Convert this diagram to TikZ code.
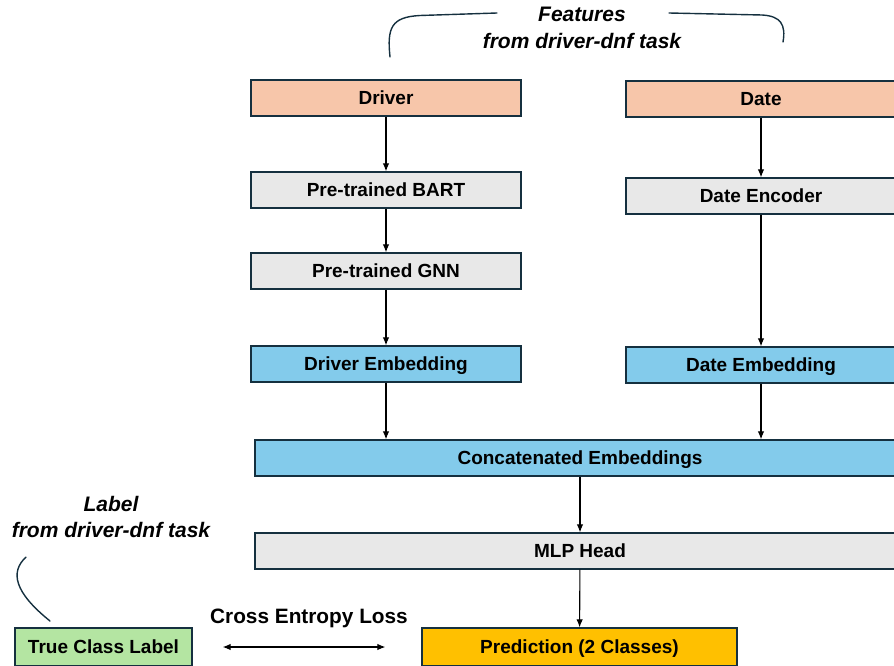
\documentclass[tikz,border=0pt]{standalone}
\usepackage{fontspec}
\setmainfont{Liberation Sans}
\usetikzlibrary{arrows.meta}
\definecolor{edgeblue}{HTML}{15303F}
\definecolor{inputorange}{HTML}{F7C6AA}
\definecolor{stepgray}{HTML}{E8E8E8}
\definecolor{embedblue}{HTML}{83CBEB}
\definecolor{labelgreen}{HTML}{B4E5A2}
\definecolor{predyellow}{HTML}{FFC000}

\begin{document}
\begin{tikzpicture}[x=1pt, y=-1pt,
    box/.style={rectangle, draw=edgeblue, line width=1.3pt, minimum width=270pt,
        minimum height=36pt, inner sep=0pt, text height=13.6pt, text depth=0pt,
        font=\bfseries\fontsize{19}{22}\selectfont},
    wide/.style={box, minimum width=650pt},
    flow/.style={-{Latex[length=8pt,width=6.5pt]}, line width=1.1pt},
    note/.style={font=\bfseries\itshape\fontsize{21}{27}\selectfont, align=center},
    brace/.style={draw=edgeblue, line width=1.4pt, line cap=round}
]
    \useasboundingbox (0,0) rectangle (894,666);

    % left branch
    \node[box, fill=inputorange] (driver) at (386,98) {Driver};
    \node[box, fill=stepgray] (bart) at (386,190) {Pre-trained BART};
    \node[box, fill=stepgray] (gnn) at (386,271) {Pre-trained GNN};
    \node[box, fill=embedblue] (demb) at (386,364) {Driver Embedding};

    % right branch
    \node[box, fill=inputorange] (date) at (761,99) {Date};
    \node[box, fill=stepgray] (denc) at (761,196) {Date Encoder};
    \node[box, fill=embedblue] (temb) at (761,365) {Date Embedding};

    % head
    \node[wide, fill=embedblue] (concat) at (580,458) {Concatenated Embeddings};
    \node[wide, fill=stepgray] (mlp) at (580,551) {MLP Head};
    \node[box, fill=predyellow, minimum width=315pt, minimum height=38pt] (pred) at (579.5,647) {Prediction (2 Classes)};
    \node[box, fill=labelgreen, minimum width=177pt, minimum height=38pt] (truth) at (103.5,647) {True Class Label};

    \draw[flow] (driver) -- (bart);
    \draw[flow] (bart) -- (gnn);
    \draw[flow] (gnn) -- (demb);
    \draw[flow] (demb) -- (demb |- concat.north);
    \draw[flow] (date) -- (denc);
    \draw[flow] (denc) -- (temb);
    \draw[flow] (temb) -- (temb |- concat.north);
    \draw[flow] (concat) -- (mlp);
    \draw[flow] (mlp) -- (pred);

    % loss
    \coordinate (lossL) at ([xshift=30pt]truth.east);
    \coordinate (lossR) at ([xshift=-36pt]pred.west);
    \draw[{Latex[length=8pt,width=6.5pt]}-{Latex[length=8pt,width=6.5pt]}, line width=1.1pt] (lossL) -- (lossR);
    \node[font=\bfseries\fontsize{20.8}{24}\selectfont] (loss) at (309,618) {Cross Entropy Loss};

    % annotations
    \node[note] (feat) at (582,28) {Features\\from driver-dnf task};
    \node[note, font=\bfseries\itshape\fontsize{21}{26}\selectfont] (lab) at (111,517) {Label\\from driver-dnf task};
    \draw[brace] (390,57) .. controls (387,28) and (391,17) .. (420,15.5) -- (497,13);
    \draw[brace] (669,13) -- (762,15) .. controls (781,16) and (786,25) .. (783,42);
    \draw[brace] (26,557) .. controls (10,572) and (14,592) .. (50,621);
\end{tikzpicture}
\end{document}
